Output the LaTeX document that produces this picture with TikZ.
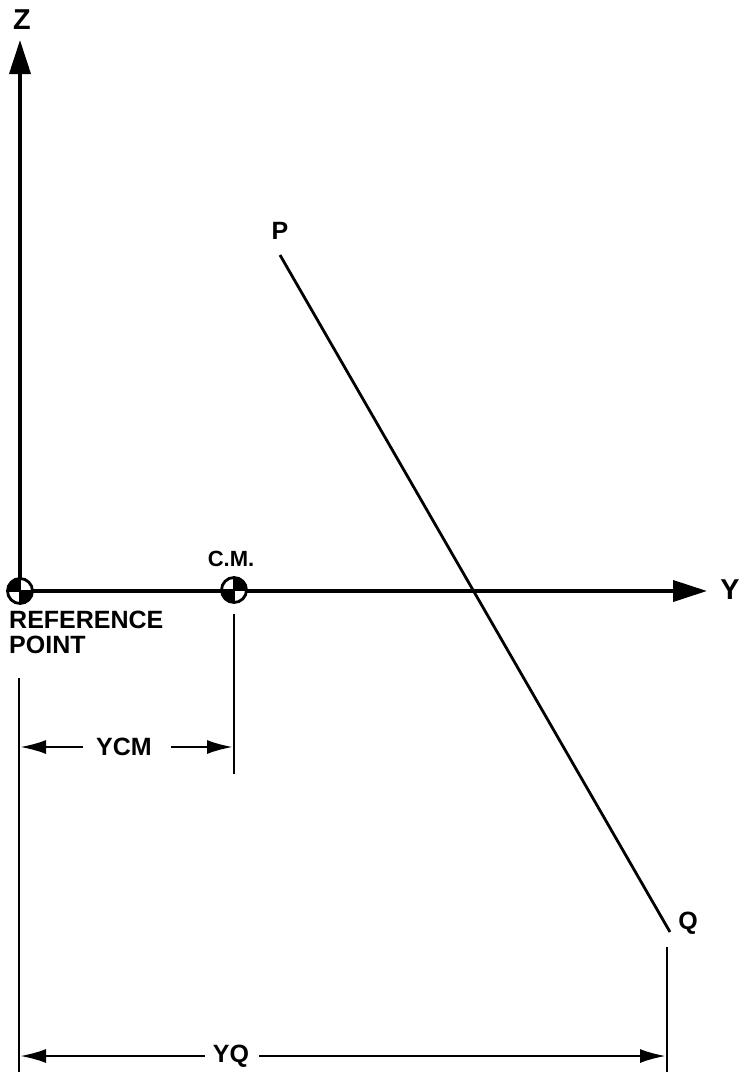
\documentclass[tikz,border=0pt]{standalone}
\usepackage{fontspec}
\setmainfont{Liberation Sans}
\usetikzlibrary{arrows.meta}
\begin{document}
\begin{tikzpicture}[x=1pt,y=-1pt,
  axis/.style={line width=3.8pt,-{Triangle[length=34pt,width=21pt]}},
  dimline/.style={line width=2.3pt},
  dimarrow/.style={line width=2.6pt,-{Latex[length=26pt,width=14pt]}},
  lbl/.style={font=\bfseries\fontsize{25}{27}\selectfont,inner sep=0pt},
  slbl/.style={font=\bfseries\fontsize{22}{24}\selectfont,inner sep=0pt},
  cmsym/.style={circle,draw,line width=2.8pt,minimum size=25pt,inner sep=0pt,fill=white}]
\useasboundingbox (0,0) rectangle (739,1072);
% axes
\coordinate (O) at (20,591);
\coordinate (Ztip) at (20,40);
\coordinate (Ytip) at (707,591);
\draw[axis] (O) -- (Ztip);
\draw[axis] (O) -- (Ytip);
\node[lbl,scale=1.15] (zl) at (22,20) {Z};
\node[lbl,scale=1.15] (yl) at (730,590) {Y};
% symbols
\node[cmsym] (ref) at (20,591) {};
\fill (ref.center) -- ++(0pt,12pt) arc[start angle=90,end angle=180,radius=12pt] -- cycle;
\fill (ref.center) -- ++(0pt,-12pt) arc[start angle=270,end angle=360,radius=12pt] -- cycle;
\draw[line width=1.4pt] (ref.north) -- (ref.south) (ref.west) -- (ref.east);
\node[cmsym] (cm) at (234,590) {};
\fill (cm.center) -- ++(12pt,0pt) arc[start angle=0,end angle=90,radius=12pt] -- cycle;
\fill (cm.center) -- ++(-12pt,0pt) arc[start angle=180,end angle=270,radius=12pt] -- cycle;
\draw[line width=1.4pt] (cm.north) -- (cm.south) (cm.west) -- (cm.east);
\node[slbl] (cml) at (231,559) {C.M.};
\node[lbl,anchor=west] (refl1) at (9,620) {REFERENCE};
\node[lbl,anchor=west] (refl2) at (9,645) {POINT};
% line PQ
\coordinate (P) at (280,255);
\coordinate (Q) at (670,932);
\draw[line width=2.8pt] (P) -- (Q);
\node[lbl] (pl) at (280,231) {P};
\node[lbl] (ql) at (688,923) {Q};
% extension lines
\coordinate (e1t) at (19,678);
\coordinate (e1b) at (19,1072);
\coordinate (e2t) at (234,614);
\coordinate (e2b) at (234,774);
\coordinate (e3t) at (667,947);
\coordinate (e3b) at (667,1072);
\draw[dimline] (e1t) -- (e1b);
\draw[dimline] (e2t) -- (e2b);
\draw[dimline] (e3t) -- (e3b);
% YCM
\node[lbl] (ycm) at (124,747) {YCM};
\coordinate (a1) at (20,747);
\coordinate (a2) at (233,747);
\coordinate (ycmL) at (83,747);
\coordinate (ycmR) at (171,747);
\draw[dimarrow] (ycmL) -- (a1);
\draw[dimarrow] (ycmR) -- (a2);
% YQ
\node[lbl] (yq) at (231,1056) {YQ};
\coordinate (b1) at (20,1056);
\coordinate (b2) at (666,1056);
\coordinate (yqL) at (205,1056);
\coordinate (yqR) at (259,1056);
\draw[dimarrow] (yqL) -- (b1);
\draw[dimarrow] (yqR) -- (b2);
\end{tikzpicture}
\end{document}
